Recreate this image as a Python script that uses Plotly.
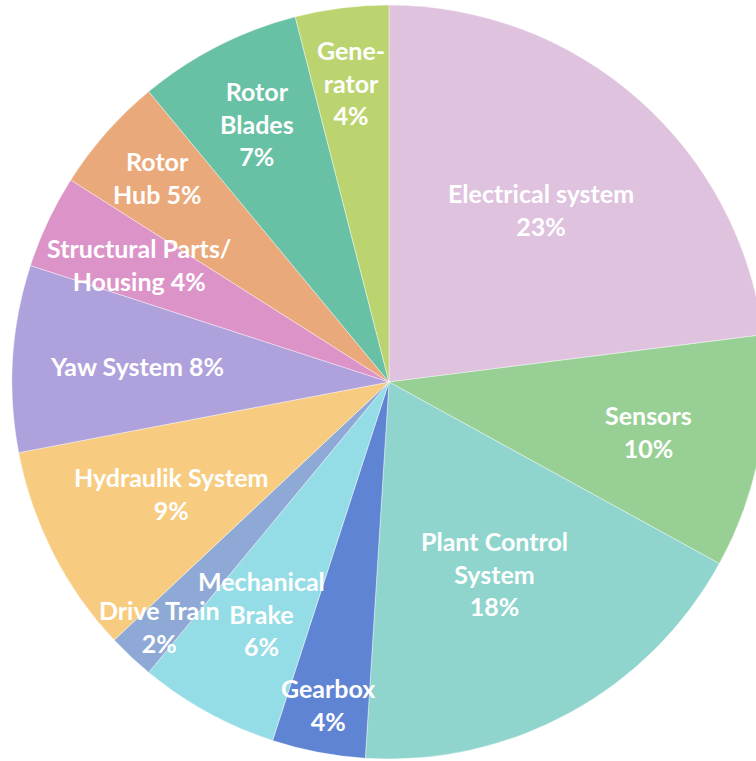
import math
import plotly.graph_objects as go

# ---- data ----
categories = ["Electrical system", "Sensors", "Plant Control System", "Gearbox",
              "Mechanical Brake", "Drive Train", "Hydraulik System", "Yaw System",
              "Structural Parts/Housing", "Rotor Hub", "Rotor Blades", "Generator"]
values = [23, 10, 18, 4, 6, 2, 9, 8, 4, 5, 7, 4]
label_text = ["Electrical system<br>{p}", "Sensors<br>{p}", "Plant Control<br>System<br>{p}",
              "Gearbox<br>{p}", "Mechanical<br>Brake<br>{p}", "Drive Train<br>{p}",
              "Hydraulik System<br>{p}", "Yaw System {p}", "Structural Parts/<br>Housing {p}",
              "Rotor<br>Hub {p}", "Rotor<br>Blades<br>{p}", "Gene-<br>rator<br>{p}"]
colors = ["#DEC2DE", "#97CF94", "#90D5CD", "#5F84D4", "#95DDE6", "#8EA9D6",
          "#F7CC80", "#AFA1DC", "#DC93C8", "#EAA97A", "#68C1A4", "#BCD46F"]

# label placement (radial fraction of the radius)
label_r = [0.61, 0.70, 0.58, 0.87, 0.70, 0.89, 0.65, 0.67, 0.73, 0.82, 0.77, 0.80]

W, H = 780, 761
cx, cy, R = 389, 382, 377

fig = go.Figure(go.Pie(
    labels=categories, values=values, sort=False, direction="clockwise", rotation=0,
    textinfo="none", hoverinfo="label+percent",
    marker=dict(colors=colors, line=dict(color="white", width=0.4)),
    domain=dict(x=[(cx - R) / W, (cx + R) / W], y=[(H - (cy + R)) / H, (H - (cy - R)) / H]),
    showlegend=False,
))

total = sum(values)
cum = 0
for v, t, rf in zip(values, label_text, label_r):
    mid = (cum + v / 2) / total * 2 * math.pi
    cum += v
    px = cx + rf * R * math.sin(mid)
    py = cy - rf * R * math.cos(mid)
    pct = f"{round(v / total * 100)}%"
    fig.add_annotation(x=px / W, y=1 - py / H, xref="paper", yref="paper",
                       text=t.format(p=pct), showarrow=False, align="center",
                       xanchor="center", yanchor="middle",
                       font=dict(family="Lato", size=25, color="white", weight="bold"))

fig.update_layout(width=W, height=H, margin=dict(l=0, r=0, t=0, b=0),
                  paper_bgcolor="white", plot_bgcolor="white")

fig.write_html("out.html", config={"displayModeBar": False},
               post_script="document.body.style.overflow='hidden';document.documentElement.style.overflow='hidden';document.body.style.margin='0';")
